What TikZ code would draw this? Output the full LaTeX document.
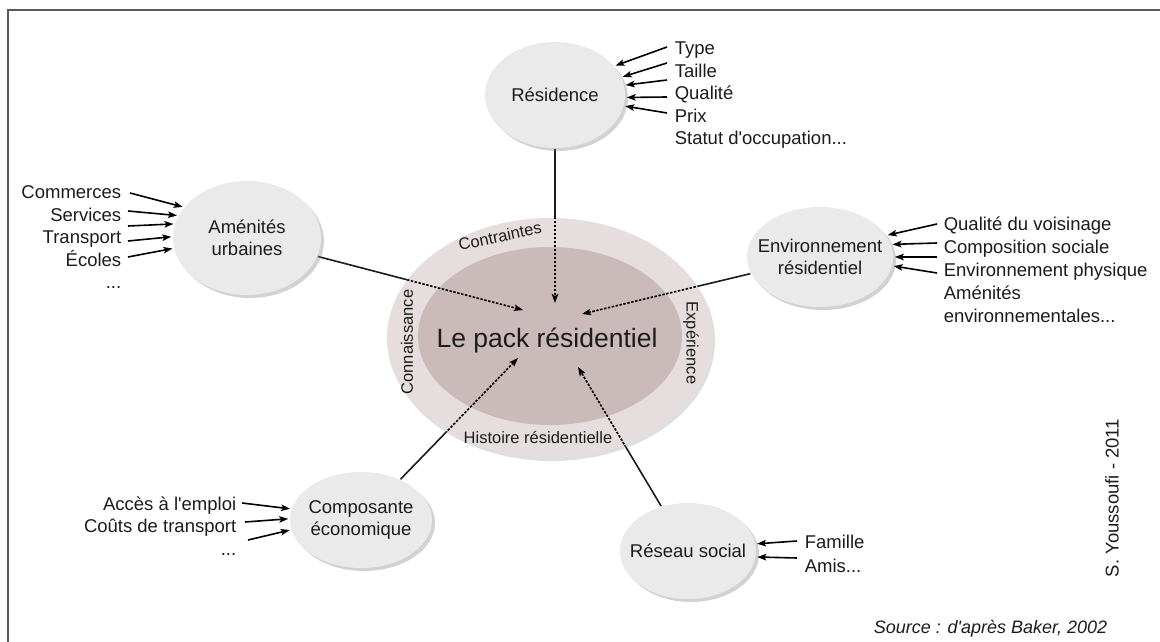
\documentclass[tikz,border=0pt]{standalone}
\usepackage{fontspec}
\setmainfont{Liberation Sans}
\usepackage{tikz}
\usetikzlibrary{arrows.meta,shapes.geometric,shadows,backgrounds,positioning}

\definecolor{satgray}{RGB}{234,234,234}
\definecolor{ringcol}{RGB}{230,222,222}
\definecolor{corecol}{RGB}{202,186,186}
\definecolor{inkcol}{RGB}{28,28,28}

\begin{document}
\begin{tikzpicture}[x=1pt,y=-1pt,>={Stealth[length=9pt,width=6.5pt,inset=2pt]},line width=1.6pt,
                    every node/.style={text=inkcol,inner sep=0pt}]
  \tikzstyle{pole}=[ellipse,fill=satgray,
                    drop shadow={shadow xshift=3pt,shadow yshift=-3pt,opacity=0.35}]
  \tikzstyle{poletext}=[align=center,font=\fontsize{18.5}{22}\selectfont]
  \tikzstyle{items}=[font=\fontsize{18.5}{22.5}\selectfont]
  \tikzstyle{band}=[font=\fontsize{16.5}{19}\selectfont]
  \tikzstyle{feed}=[->,shorten >=1pt]
  \tikzstyle{outer link}=[line width=1.6pt,draw=inkcol]
  \tikzstyle{inner link}=[->,dash pattern=on 2.5pt off 1.5pt]

  \begin{scope}[on background layer]
    \fill[white] (0,0) rectangle (1160,642);
  \end{scope}
  \useasboundingbox (0,0) rectangle (1160,642);
  \draw[gray!70!black,line width=2pt] (8,642) -- (8,10) -- (1160,10);

  \node[ellipse,fill=ringcol,minimum width=326pt,minimum height=240pt,
        drop shadow={shadow xshift=2pt,shadow yshift=-3pt,opacity=0.25}] (ring) at (550,338) {};
  \node[ellipse,fill=corecol,minimum width=264pt,minimum height=178pt] (core) at (550,336) {};
  \node[font=\fontsize{26.5}{30}\selectfont] (pack) at (547,340) {Le pack résidentiel};
  \node[band,rotate=12] (contr) at (500,236) {Contraintes};
  \node[band,rotate=90] (conn) at (407,342) {Connaissance};
  \node[band,rotate=-90] (exper) at (691,343) {Expérience};
  \node[band] (hist) at (538,438) {Histoire résidentielle};

  \node[pole,minimum width=140pt,minimum height=106pt,
        label={[poletext]center:Résidence}] (res) at (555,95) {};
  \node[pole,minimum width=148pt,minimum height=114pt,
        label={[poletext]center:{Aménités\\urbaines}}] (ame) at (247,238) {};
  \node[pole,minimum width=146pt,minimum height=100pt,
        label={[poletext]center:{Environnement\\résidentiel}}] (env) at (820,257) {};
  \node[pole,minimum width=142pt,minimum height=96pt,
        label={[poletext]center:{Composante\\économique}}] (eco) at (361,520) {};
  \node[pole,minimum width=136pt,minimum height=96pt,
        label={[poletext]center:Réseau social}] (soc) at (688,551) {};

  \node[items,align=left,anchor=north west] (reslist) at (674,41)
    {Type\\Taille\\Qualité\\Prix\\Statut d\textquotesingle occupation...};
  \node[items,align=right,anchor=north east] (amelist) at (122,185)
    {Commerces\\Services\\Transport\\Écoles\\...};
  \node[items,align=left,anchor=north west,font=\fontsize{18.5}{23}\selectfont] (envlist) at (943,216)
    {Qualité du voisinage\\Composition sociale\\Environnement physique\\Aménités\\environnementales...};
  \node[items,align=right,anchor=north east] (ecolist) at (237,496)
    {Accès à l\textquotesingle emploi\\Coûts de transport\\...};
  \node[items,align=left,anchor=north west,font=\fontsize{18.5}{24}\selectfont] (soclist) at (804,534)
    {Famille\\Amis...};

  \node[items,rotate=90] (author) at (1112,498) {S. Youssoufi - 2011};
  \node[items,anchor=east,font=\fontsize{18}{21}\itshape] (source) at (1108,629)
    {Source : d\textquotesingle après Baker, 2002};

  \draw[feed] ([xshift=-7pt,yshift=-6pt]reslist.north west) -- (res.26);
  \draw[feed] ([xshift=-7pt,yshift=-22pt]reslist.north west) -- (res.15);
  \draw[feed] ([xshift=-7pt,yshift=-39pt]reslist.north west) -- (res.8);
  \draw[feed] ([xshift=-7pt,yshift=-56pt]reslist.north west) -- (res.-2);
  \draw[feed] ([xshift=-7pt,yshift=-72pt]reslist.north west) -- (res.-9);

  \draw[feed] ([xshift=8pt,yshift=-8pt]amelist.north east) -- (ame.154);
  \draw[feed] ([xshift=6pt,yshift=-26pt]amelist.north east) -- (ame.162);
  \draw[feed] ([xshift=6pt,yshift=-41pt]amelist.north east) -- (ame.169);
  \draw[feed] ([xshift=6pt,yshift=-56pt]amelist.north east) -- (ame.179);
  \draw[feed] ([xshift=6pt,yshift=-72pt]amelist.north east) -- (ame.188);

  \draw[feed] ([xshift=-6pt,yshift=-8pt]envlist.north west) -- (env.18);
  \draw[feed] ([xshift=-6pt,yshift=-27pt]envlist.north west) -- (env.10);
  \draw[feed] ([xshift=-6pt,yshift=-41pt]envlist.north west) -- (env.0);
  \draw[feed] ([xshift=-6pt,yshift=-57pt]envlist.north west) -- (env.-7);

  \draw[feed] ([xshift=5pt,yshift=-7pt]ecolist.north east) -- (eco.171);
  \draw[feed] ([xshift=8pt,yshift=-26pt]ecolist.north east) -- (eco.179);
  \draw[feed] ([xshift=11pt,yshift=-44pt]ecolist.north east) -- (eco.188);

  \draw[feed] ([xshift=-7pt,yshift=-7pt]soclist.north west) -- (soc.6);
  \draw[feed] ([xshift=-7pt,yshift=-24pt]soclist.north west) -- (soc.-5);

  \coordinate (tipR) at (555,303);
  \coordinate (tipA) at (523,310);
  \coordinate (tipE) at (582,314);
  \coordinate (tipC) at (518,358);
  \coordinate (tipS) at (578,367);

  \begin{scope}[on background layer]
    \draw[outer link] (res) -- (tipR) (ame) -- (tipA) (env) -- (tipE)
          (eco) -- (tipC) (soc) -- (tipS);
  \end{scope}
  \begin{scope}
    \clip (ring.center) ellipse [x radius=163, y radius=120];
    \draw[inner link] (res) -- (tipR);
    \draw[inner link] (ame) -- (tipA);
    \draw[inner link] (env) -- (tipE);
    \draw[inner link] (eco) -- (tipC);
    \draw[inner link] (soc) -- (tipS);
  \end{scope}
\end{tikzpicture}
\end{document}
